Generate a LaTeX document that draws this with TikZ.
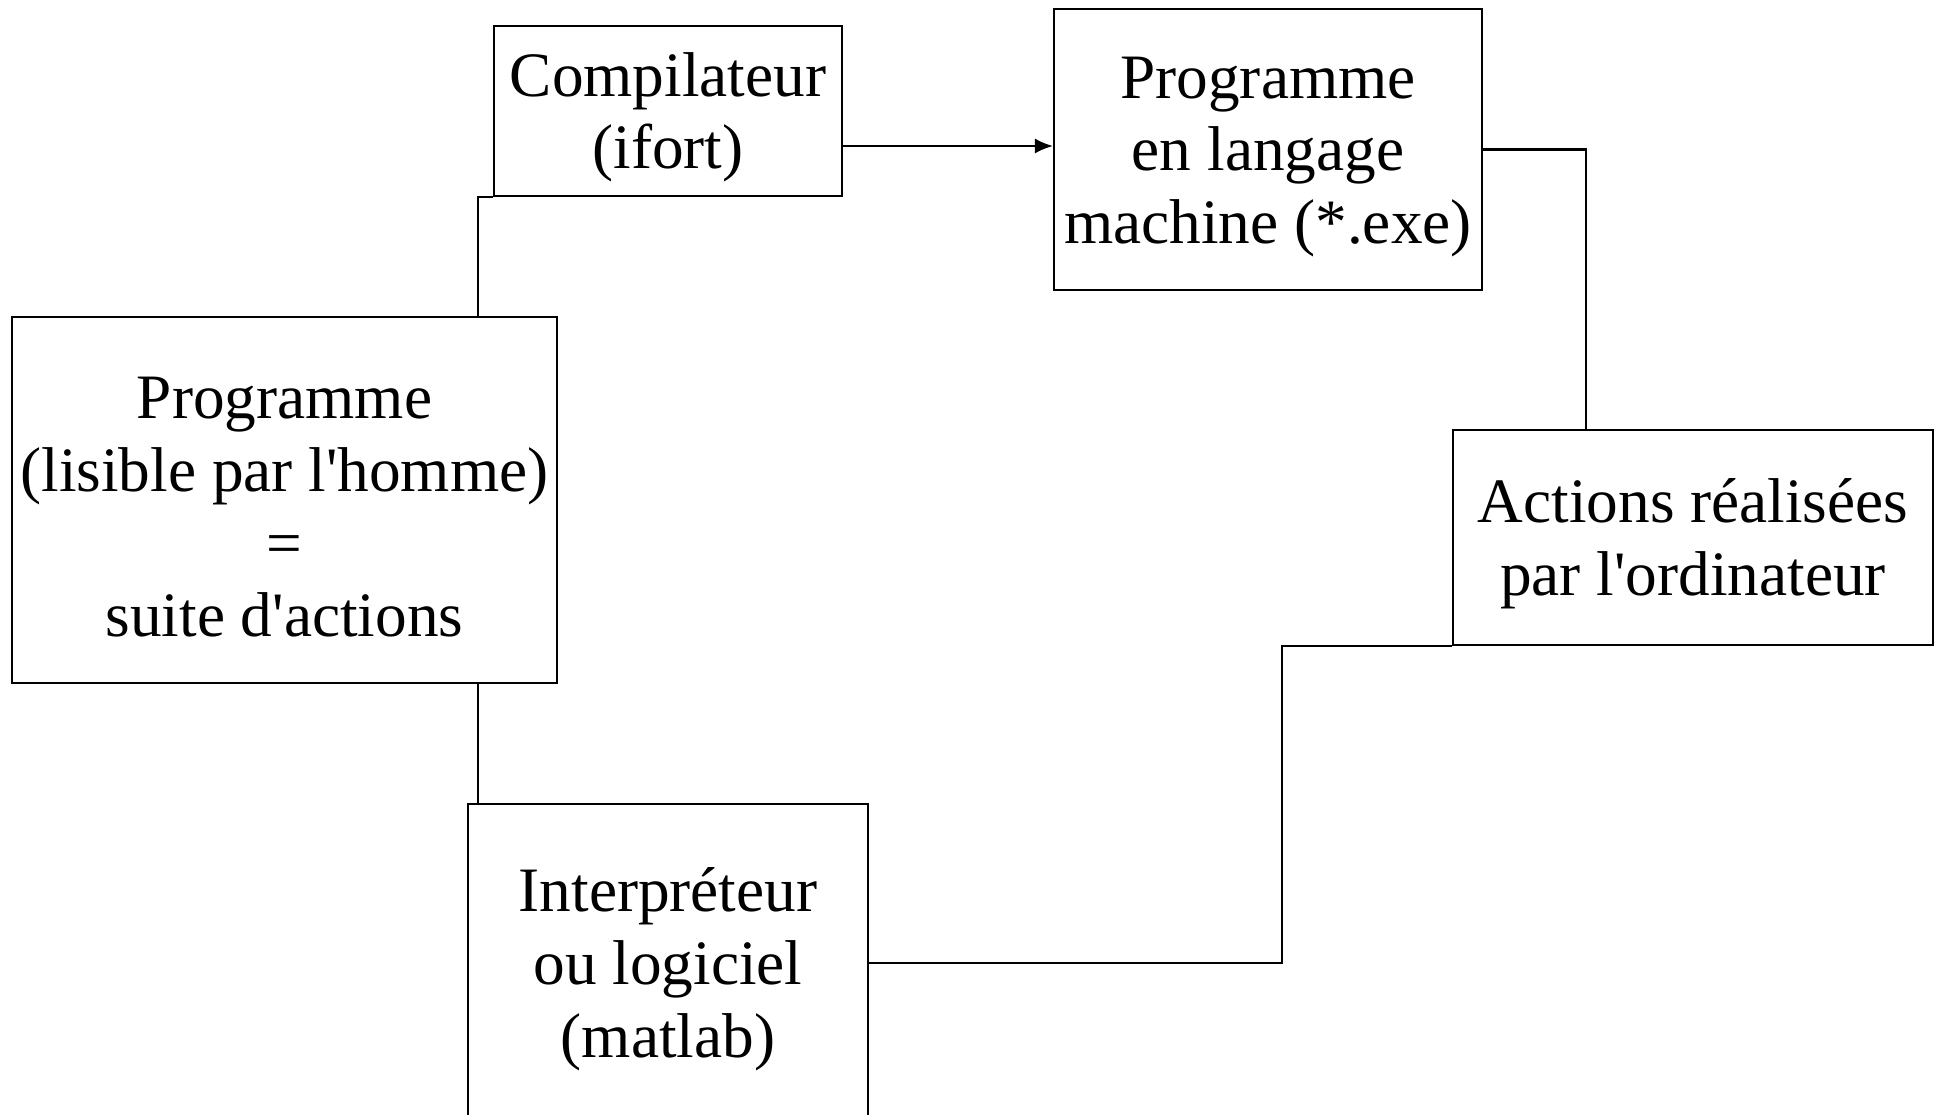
\documentclass[tikz,border=0pt]{standalone}
\usepackage{fontspec}
\setmainfont{Liberation Serif}[Ligatures=TeXOff]
\usetikzlibrary{arrows.meta}
\newcommand\ligne{\rule{0pt}{0.89em}}

\begin{document}
\begin{tikzpicture}[line width=0.6pt,
    box/.style={draw, align=center, inner sep=0pt, font=\fontsize{18}{20.7}\selectfont},
    link/.style={line width=0.6pt},
    flow/.style={line width=0.6pt, -{Latex[length=1.8mm,width=1.5mm]}}]
  \useasboundingbox (0,0) rectangle (19.37,-11.15);
  \node[box, minimum width=5.45cm, minimum height=3.66cm] (prog) at (2.845,-5.00)
    {\ligne Programme\\(lisible par l'homme)\\=\\suite d'actions};
  \node[box, minimum width=3.48cm, minimum height=1.70cm] (comp) at (6.68,-1.11)
    {\ligne Compilateur\\(ifort)};
  \node[box, minimum width=4.28cm, minimum height=2.81cm] (mach) at (12.68,-1.495)
    {\ligne Programme\\en langage\\machine (*.exe)};
  \node[box, minimum width=4.80cm, minimum height=2.15cm] (act) at (16.93,-5.375)
    {\ligne Actions réalisées\\par l'ordinateur};
  \node[box, minimum width=4.00cm, minimum height=3.18cm] (interp) at (6.68,-9.63)
    {\ligne Interpréteur\\ou logiciel\\(matlab)};
  % voie compilee
  \draw[link] ([xshift=-0.8cm]prog.north east) |- (comp.south west);
  \draw[flow] ([yshift=-0.35cm]comp.east) -- ([yshift=-0.35cm]comp.east -| mach.west);
  \draw[link] (mach.east) -| ([xshift=1.34cm]act.north west);
  % voie interpretee
  \draw[link] ([xshift=-0.8cm]prog.south east) -- ([xshift=-0.8cm]prog.south east |- interp.north);
  \draw[link] (interp.east) -- ++(4.13,0) |- (act.south west);
\end{tikzpicture}
\end{document}
